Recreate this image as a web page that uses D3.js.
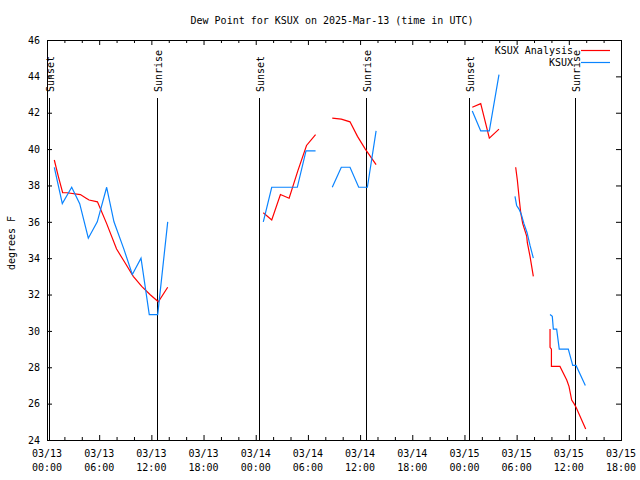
<!DOCTYPE html>
<html>
<head>
<meta charset="utf-8">
<script src="https://cdn.jsdelivr.net/npm/d3@7"></script>
<style>
  html, body { margin: 0; padding: 0; background: #fff; }
  svg { display: block; }
  text { font-family: "DejaVu Sans Mono", "Liberation Mono", monospace; font-size: 10px; fill: #000; }
</style>
</head>
<body>
<svg id="chart" width="640" height="480"></svg>
<script>
// ---- data (hours after 2025-03-13 00:00 UTC) ----
const titleText = "Dew Point for KSUX on 2025-Mar-13 (time in UTC)";
const yLabel = "degrees F";
const seriesNames = ["KSUX Analysis", "KSUX"];
const seriesColors = ["#ff0000", "#0a84ff"];

const yTicks = [24, 26, 28, 30, 32, 34, 36, 38, 40, 42, 44, 46];
const xTickHours = [0, 6, 12, 18, 24, 30, 36, 42, 48, 54, 60, 66];

const sunLabels = ["Sunset", "Sunrise", "Sunset", "Sunrise", "Sunset", "Sunrise"];
const sunHours  = [0.27, 12.68, 24.41, 36.71, 48.48, 60.75];

// KSUX Analysis (red); null breaks the line
const anaHours = [
  0.84, 1.3, 1.8, 2.3, 3.84, 4.5, 4.84, 5.8, 6.86, 8.0, 8.97, 9.92, 10.89, 11.84, 12.8, 13.88,
  20,
  24.87, 25.84, 26.84, 27.84, 28.84, 29.84, 30.88,
  31.8,
  32.8, 33.84, 34.84, 35.7, 36.6, 37.84,
  44,
  48.9, 49.87, 50.86, 51.97,
  53,
  53.89, 54.08, 54.31, 54.47, 54.7, 55.16, 55.23, 55.54, 55.92,
  57,
  57.84, 57.84, 58.0, 58.0, 58.98, 59.76, 60.02, 60.33, 60.6, 60.83, 61.94
];
const anaDewpoint = [
  39.4, 38.5, 37.6, 37.6, 37.5, 37.3, 37.2, 37.1, 35.9, 34.5, 33.75, 33.0, 32.45, 32.0, 31.6, 32.4,
  null,
  36.5, 36.1, 37.5, 37.3, 38.8, 40.2, 40.8,
  null,
  41.7, 41.65, 41.5, 40.7, 40.0, 39.15,
  null,
  42.3, 42.5, 40.6, 41.1,
  null,
  39.0, 38.3, 37.2, 36.5, 35.9, 35.2, 34.85, 34.1, 33.0,
  null,
  30.1, 29.1, 29.0, 28.05, 28.05, 27.3, 26.95, 26.2, 26.0, 25.8, 24.6
];

// KSUX observations (blue)
const obsHours = [
  0.84, 1.76, 2.84, 3.76, 4.75, 5.78, 6.86, 7.7, 8.84, 9.81, 10.81, 11.76, 12.73, 13.88,
  20,
  24.87, 25.84, 26.84, 27.84, 28.78, 29.78, 30.88,
  31.8,
  32.8, 33.84, 34.84, 35.84, 36.84, 37.84,
  44,
  48.9, 49.87, 50.86, 51.97,
  53,
  53.81, 54.0, 54.27, 54.54, 54.84, 55.2, 55.54, 55.92,
  57,
  57.84, 58.1, 58.22, 58.6, 58.9, 59.94, 60.45, 60.83, 61.9
];
const obsDewpoint = [
  39.0, 37.0, 37.9, 37.0, 35.1, 36.0, 37.9, 36.0, 34.5, 33.1, 34.0, 30.9, 30.9, 36.0,
  null,
  36.0, 37.9, 37.9, 37.9, 37.9, 39.9, 39.9,
  null,
  37.9, 39.0, 39.0, 37.9, 37.9, 41.0,
  null,
  42.1, 41.0, 41.0, 44.1,
  null,
  37.4, 36.9, 36.7, 36.4, 35.9, 35.4, 34.7, 34.0,
  null,
  30.9, 30.8, 30.1, 30.1, 29.0, 29.0, 28.1, 28.1, 27.0
];

// ---- drawing ----
const t0 = Date.UTC(2025, 2, 13, 0, 0);
const toDate = h => new Date(t0 + h * 3600e3);

const svg = d3.select("#chart");
const L = 47, R = 621, T = 40, B = 440;

const x = d3.scaleUtc().domain([toDate(0), toDate(66)]).range([L, R]);
const y = d3.scaleLinear().domain([24, 46]).range([B, T]);

const fmtDate = d3.utcFormat("%m/%d");
const fmtTime = d3.utcFormat("%H:%M");

// title
svg.append("text").attr("x", 332).attr("y", 20)
  .attr("text-anchor", "middle").attr("dominant-baseline", "central")
  .text(titleText);

// y label
svg.append("text")
  .attr("transform", "translate(11,243) rotate(-90)")
  .attr("text-anchor", "middle").attr("dominant-baseline", "central")
  .text(yLabel);

const majorX = xTickHours.map(toDate);
const minorX = d3.range(0, 67, 2).filter(h => h % 6 !== 0).map(toDate);

function styleAxis(g) {
  g.select(".domain").remove();
  g.selectAll("line").attr("stroke", "#000");
}

// bottom axis
svg.append("g").attr("transform", `translate(0,${B})`)
  .call(d3.axisBottom(x).tickValues(majorX).tickSizeInner(-5).tickSizeOuter(0).tickFormat(""))
  .call(styleAxis);
svg.append("g").attr("transform", `translate(0,${B})`)
  .call(d3.axisBottom(x).tickValues(minorX).tickSizeInner(-3).tickSizeOuter(0).tickFormat(""))
  .call(styleAxis);
// top axis (mirror)
svg.append("g").attr("transform", `translate(0,${T})`)
  .call(d3.axisTop(x).tickValues(majorX).tickSizeInner(-5).tickSizeOuter(0).tickFormat(""))
  .call(styleAxis);
svg.append("g").attr("transform", `translate(0,${T})`)
  .call(d3.axisTop(x).tickValues(minorX).tickSizeInner(-3).tickSizeOuter(0).tickFormat(""))
  .call(styleAxis);
// left axis
svg.append("g").attr("transform", `translate(${L},0)`)
  .call(d3.axisLeft(y).tickValues(yTicks).tickSizeInner(-5).tickSizeOuter(0).tickPadding(7).tickFormat(d3.format("d")))
  .call(styleAxis)
  .call(g => g.selectAll("text").attr("font-family", null).attr("font-size", null).attr("fill", "#000"));
// right axis (mirror)
svg.append("g").attr("transform", `translate(${R},0)`)
  .call(d3.axisRight(y).tickValues(yTicks).tickSizeInner(-5).tickSizeOuter(0).tickFormat(""))
  .call(styleAxis);

// two-line x tick labels
const xl = svg.append("g");
majorX.forEach(d => {
  const t = xl.append("text").attr("text-anchor", "middle");
  t.append("tspan").attr("x", x(d)).attr("y", 457).text(fmtDate(d));
  t.append("tspan").attr("x", x(d)).attr("y", 471).text(fmtTime(d));
});

// plot border
svg.append("rect")
  .attr("x", L + 0.5).attr("y", T + 0.5)
  .attr("width", R - L).attr("height", B - T)
  .attr("fill", "none").attr("stroke", "#000");

// sunrise / sunset markers
sunHours.forEach((h, i) => {
  const sx = Math.round(x(toDate(h))) + 0.5;
  svg.append("line").attr("x1", sx).attr("x2", sx).attr("y1", 98).attr("y2", B)
    .attr("stroke", "#000").attr("stroke-width", 1);
  svg.append("text")
    .attr("transform", `translate(${sx + 1},92) rotate(-90)`)
    .attr("text-anchor", "start").attr("dominant-baseline", "central")
    .text(sunLabels[i]);
});

// series
const line = d3.line()
  .defined(d => d.v !== null)
  .x(d => x(toDate(d.h)))
  .y(d => y(d.v));

const anaData = anaHours.map((h, i) => ({ h, v: anaDewpoint[i] }));
const obsData = obsHours.map((h, i) => ({ h, v: obsDewpoint[i] }));

svg.append("path").datum(anaData)
  .attr("d", line).attr("fill", "none")
  .attr("stroke", seriesColors[0]).attr("stroke-width", 1.2);
svg.append("path").datum(obsData)
  .attr("d", line).attr("fill", "none")
  .attr("stroke", seriesColors[1]).attr("stroke-width", 1.2);

// legend
const legY = [50, 62];
seriesNames.forEach((name, i) => {
  svg.append("text").attr("x", 573).attr("y", legY[i])
    .attr("text-anchor", "end").attr("dominant-baseline", "central")
    .text(name);
  svg.append("line").attr("x1", 581).attr("x2", 610)
    .attr("y1", legY[i] + 0.5).attr("y2", legY[i] + 0.5)
    .attr("stroke", seriesColors[i]).attr("stroke-width", 1.2);
});
</script>
</body>
</html>
